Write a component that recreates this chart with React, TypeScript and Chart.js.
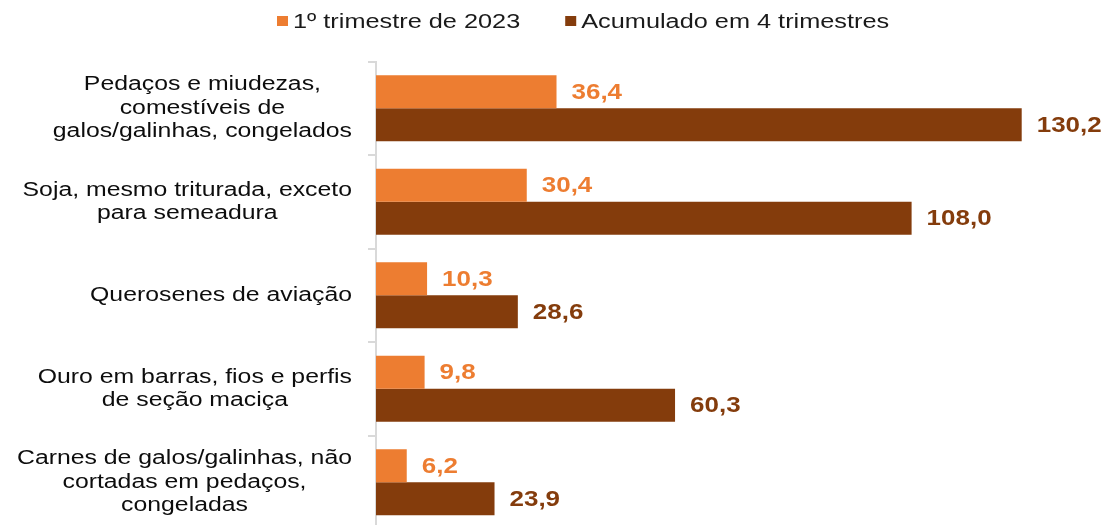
import { useEffect, useRef } from 'react';
import { Chart, registerables } from 'chart.js';

Chart.register(...registerables);

const categories: string[][] = [
  ['Pedaços e miudezas,', 'comestíveis de', 'galos/galinhas, congelados'],
  ['Soja, mesmo triturada, exceto', 'para semeadura'],
  ['Querosenes de aviação'],
  ['Ouro em barras, fios e perfis', 'de seção maciça'],
  ['Carnes de galos/galinhas, não', 'cortadas em pedaços,', 'congeladas'],
];
const seriesNames = ['1º trimestre de 2023', 'Acumulado em 4 trimestres'];
const trimestre2023 = [36.4, 30.4, 10.3, 9.8, 6.2];
const acumulado4 = [130.2, 108.0, 28.6, 60.3, 23.9];
const seriesColors = ['#ED7D31', '#843C0C'];

const FONT = '"Liberation Sans", Arial, sans-serif';
const fmt = (v: number) => v.toFixed(1).replace('.', ',');

const customDraw = {
  id: 'customDraw',
  afterDraw(chart: any) {
    const ctx = chart.ctx as CanvasRenderingContext2D;
    const yScale = chart.scales.y;
    const area = chart.chartArea;

    // category labels (centered block, widest line right-aligned)
    ctx.save();
    ctx.font = `20px ${FONT}`;
    ctx.fillStyle = '#0d0d0d';
    ctx.textBaseline = 'middle';
    ctx.textAlign = 'center';
    const SX = 1.24;
    const rightEdge = area.left - 24;
    categories.forEach((lines, i) => {
      const cy = yScale.getPixelForValue(i);
      const w = Math.max(...lines.map((l) => ctx.measureText(l).width)) * SX;
      const cx = rightEdge - w / 2;
      lines.forEach((l, j) => {
        const y = cy + (j - (lines.length - 1) / 2) * 23.5;
        ctx.save();
        ctx.translate(cx, y);
        ctx.scale(SX, 1);
        ctx.fillText(l, 0, 0);
        ctx.restore();
      });
    });
    ctx.restore();

    // data labels
    ctx.save();
    ctx.font = `bold 22px ${FONT}`;
    ctx.textAlign = 'left';
    ctx.textBaseline = 'middle';
    chart.data.datasets.forEach((ds: any, di: number) => {
      const meta = chart.getDatasetMeta(di);
      meta.data.forEach((bar: any, i: number) => {
        ctx.fillStyle = seriesColors[di];
        ctx.save();
        ctx.translate(bar.x + 15, bar.y + 1);
        ctx.scale(1.18, 1);
        ctx.fillText(fmt(ds.data[i]), 0, 0);
        ctx.restore();
      });
    });
    ctx.restore();

    // legend
    ctx.save();
    ctx.font = `20px ${FONT}`;
    ctx.textAlign = 'left';
    ctx.textBaseline = 'middle';
    const LSX = 1.265;
    let x = 277;
    const cyL = 21;
    seriesNames.forEach((name, i) => {
      ctx.fillStyle = seriesColors[i];
      ctx.fillRect(x, cyL - 5, 11, 10);
      ctx.fillStyle = '#1a1a1a';
      ctx.save();
      ctx.translate(x + 16, cyL + 1);
      ctx.scale(LSX, 1);
      ctx.fillText(name, 0, 0);
      ctx.restore();
      x += 16 + ctx.measureText(name).width * LSX + 45;
    });
    ctx.restore();
  },
};

export default function App() {
  const ref = useRef<HTMLCanvasElement | null>(null);

  useEffect(() => {
    if (!ref.current) return;
    const chart = new Chart(ref.current, {
      type: 'bar',
      data: {
        labels: categories.map((c) => c.join(' ')),
        datasets: [
          {
            label: seriesNames[0],
            data: trimestre2023,
            backgroundColor: seriesColors[0],
            categoryPercentage: 0.707,
            barPercentage: 1,
          },
          {
            label: seriesNames[1],
            data: acumulado4,
            backgroundColor: seriesColors[1],
            categoryPercentage: 0.707,
            barPercentage: 1,
          },
        ],
      },
      options: {
        indexAxis: 'y',
        responsive: false,
        animation: false,
        layout: { padding: { top: 61.5, bottom: 0, left: 0, right: 0 } },
        plugins: {
          legend: { display: false },
          tooltip: { enabled: false },
        },
        scales: {
          x: {
            display: false,
            min: 0,
            max: 147.4,
          },
          y: {
            grid: {
              offset: true,
              drawOnChartArea: false,
              drawTicks: true,
              tickLength: 8,
              color: '#d9d9d9',
              lineWidth: 2,
            },
            border: { color: '#d9d9d9', width: 2 },
            ticks: { display: false },
            afterFit: (s: any) => {
              s.width = 376;
            },
          },
        },
      },
      plugins: [customDraw],
    });
    return () => chart.destroy();
  }, []);

  return (
    <div
      style={{
        position: 'absolute',
        left: 0,
        top: 0,
        width: 1107,
        height: 525,
        overflow: 'hidden',
        background: '#fff',
      }}
    >
      <canvas ref={ref} width={1107} height={529} style={{ display: 'block' }} />
    </div>
  );
}
